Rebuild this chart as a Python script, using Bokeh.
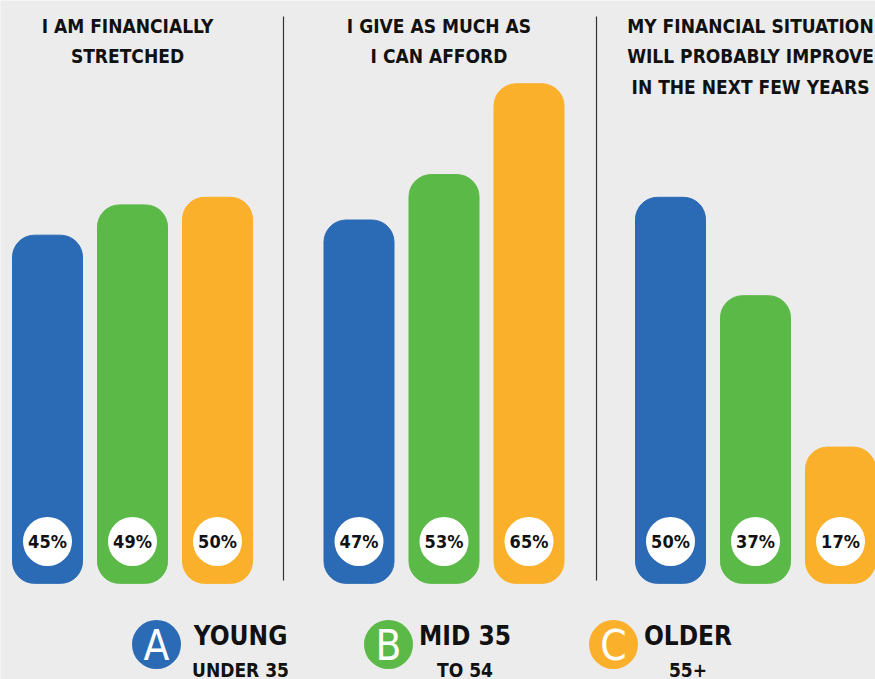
from bokeh.plotting import figure
from bokeh.models import Range1d, ColumnDataSource
from bokeh.core.properties import value
from bokeh.embed import file_html
from bokeh.resources import INLINE

# ---- data ----
groups = ["I AM FINANCIALLY\nSTRETCHED",
          "I GIVE AS MUCH AS\nI CAN AFFORD",
          "MY FINANCIAL SITUATION\nWILL PROBABLY IMPROVE\nIN THE NEXT FEW YEARS"]
segments = ["Young", "Mid", "Older"]
young = [45, 47, 50]
mid = [49, 53, 37]
older = [50, 65, 17]
legend_codes = ["A", "B", "C"]
legend_names = ["YOUNG", "MID 35", "OLDER"]
legend_subs = ["UNDER 35", "TO 54", "55+"]

# ---- layout / style ----
colors = ["#2B6BB5", "#5BB947", "#FBB02B"]
BG = "#ECECEC"
FONT = "DejaVu Sans Condensed, Roboto, sans-serif"
W, H = 875, 679
GROUP_X0, GROUP_STEP, BAR_STEP, BAR_W = 47, 311.5, 85, 70
BASE = -1.0

series = [young, mid, older]
xs, tops, cols, labels = [], [], [], []
gx = []
for gi, g in enumerate(groups):
    gx.append(GROUP_X0 + gi * GROUP_STEP + BAR_STEP)
    for si, s in enumerate(segments):
        xs.append(GROUP_X0 + gi * GROUP_STEP + si * BAR_STEP)
        tops.append(series[si][gi])
        cols.append(colors[si])
        labels.append(f"{series[si][gi]}%")
src = ColumnDataSource(dict(x=xs, top=tops, color=cols, label=labels))

p = figure(width=W, height=H, x_range=Range1d(0, W), y_range=Range1d(-13.7, 76.0),
           output_backend="svg", toolbar_location=None,
           background_fill_color=BG, border_fill_color=BG,
           min_border_left=0, min_border_right=0, min_border_top=0, min_border_bottom=0)
p.extra_y_ranges = {"px": Range1d(H, 0)}
p.xaxis.visible = False
p.yaxis.visible = False
p.grid.visible = False
p.outline_line_color = None

p.vbar(x="x", top="top", bottom=BASE, width=BAR_W, color="color", source=src,
       border_radius=22)

# white label circles
p.scatter(x="x", y=541, size=49, fill_color="white", line_color=None,
          source=src, y_range_name="px")
p.text(x="x", y=541, text="label", source=src, y_range_name="px",
       text_align="center", text_baseline="middle", text_font=value(FONT),
       text_font_style="bold", text_font_size="18px", text_color="#111111")

# group titles
tsrc = ColumnDataSource(dict(x=gx, t=groups))
p.text(x="x", y=14, text="t", source=tsrc, y_range_name="px", x_offset=-5,
       text_align="center", text_baseline="top", text_font=value(FONT),
       text_font_style="bold", text_font_size="19px", text_line_height=1.4,
       text_color="#111111")

# separators
p.segment(x0=[283, 596], y0=[16, 16], x1=[283, 596], y1=[580, 580],
          line_color="#333333", line_width=1.2, y_range_name="px")

# legend
lx = [156, 388, 613]
tx = [240, 464.5, 687.5]
p.scatter(x=lx, y=[644] * 3, size=49, fill_color=colors, line_color=None,
          y_range_name="px")
p.text(x=lx, y=[645] * 3, text=legend_codes, y_range_name="px",
       text_align="center", text_baseline="middle", text_font=value(FONT),
       text_font_size="42px", text_color="white")
p.text(x=tx, y=[635] * 3, text=legend_names, y_range_name="px",
       text_align="center", text_baseline="middle", text_font=value(FONT),
       text_font_style="bold", text_font_size="26px", text_color="#111111")
p.text(x=tx, y=[669] * 3, text=legend_subs, y_range_name="px",
       text_align="center", text_baseline="middle", text_font=value(FONT),
       text_font_style="bold", text_font_size="19px", text_color="#111111")

open("out.html", "w").write(file_html(p, INLINE))
